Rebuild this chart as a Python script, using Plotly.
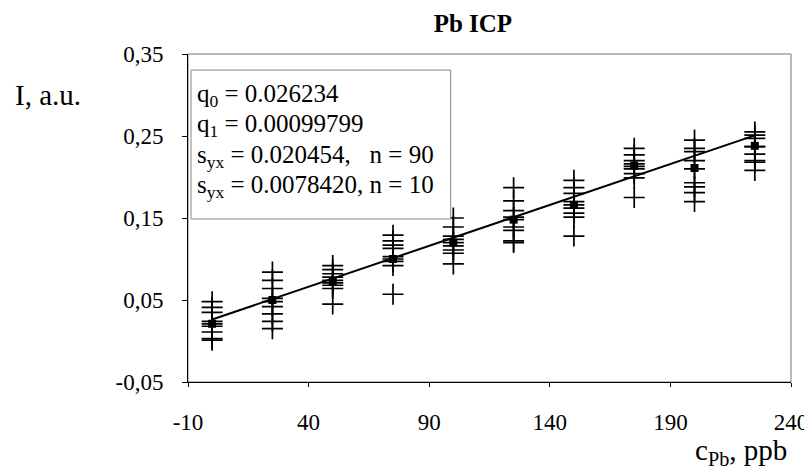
import plotly.graph_objects as go

# ---- data ----
concentrations = [0, 25, 50, 75, 100, 125, 150, 175, 200, 225]

replicates = [
    [0.048, 0.041, 0.035, 0.024, 0.021, 0.018, 0.011, 0.003, 0.001],
    [0.084, 0.074, 0.064, 0.052, 0.048, 0.042, 0.033, 0.024, 0.015],
    [0.092, 0.087, 0.082, 0.078, 0.074, 0.071, 0.068, 0.064, 0.045],
    [0.129, 0.122, 0.117, 0.113, 0.103, 0.100, 0.097, 0.092, 0.057],
    [0.150, 0.139, 0.128, 0.124, 0.120, 0.116, 0.111, 0.107, 0.094],
    [0.187, 0.171, 0.159, 0.151, 0.148, 0.139, 0.135, 0.122, 0.120],
    [0.196, 0.187, 0.180, 0.170, 0.166, 0.162, 0.156, 0.151, 0.128],
    [0.235, 0.227, 0.220, 0.216, 0.213, 0.210, 0.204, 0.199, 0.175],
    [0.245, 0.235, 0.231, 0.220, 0.210, 0.193, 0.188, 0.181, 0.170],
    [0.255, 0.251, 0.247, 0.237, 0.237, 0.228, 0.220, 0.218, 0.208],
]

means = [0.021, 0.050, 0.072, 0.100, 0.120, 0.148, 0.166, 0.214, 0.211, 0.238]

q0 = 0.026234
q1 = 0.00099799
fit_x = [0, 225]

x_ticks = [-10, 40, 90, 140, 190, 240]
y_ticks = [-0.05, 0.05, 0.15, 0.25, 0.35]
y_ticktext = ["-0,05", "0,05", "0,15", "0,25", "0,35"]

stats_lines = [
    "q<sub>0</sub> = 0.026234",
    "q<sub>1</sub> = 0.00099799",
    "s<sub>yx</sub> = 0.020454,   n = 90",
    "s<sub>yx</sub> = 0.0078420, n = 10",
]

FONT = "Liberation Serif"

# ---- figure ----
px_all, py_all = [], []
for c, reps in zip(concentrations, replicates):
    for v in reps:
        px_all.append(c)
        py_all.append(v)

fig = go.Figure()
fig.add_trace(go.Scatter(
    x=px_all, y=py_all, mode="markers",
    marker=dict(symbol="cross-thin-open", size=15, color="black",
                line=dict(color="black", width=1.7)),
    showlegend=False, hoverinfo="skip"))
fig.add_trace(go.Scatter(
    x=fit_x, y=[q0 + q1 * v for v in fit_x], mode="lines",
    line=dict(color="black", width=2), showlegend=False))
fig.add_trace(go.Scatter(
    x=concentrations, y=means, mode="markers",
    marker=dict(symbol="square", size=8, color="black"),
    showlegend=False))

fig.update_layout(
    width=812, height=475,
    margin=dict(l=180, r=19, t=46, b=101),
    paper_bgcolor="white", plot_bgcolor="white",
    font=dict(family=FONT, color="black", size=20),
    title=dict(text="<b>Pb ICP</b>", x=0.5725, xanchor="center",
               y=0.968, yanchor="middle",
               font=dict(family=FONT, size=25, color="black")),
)

fig.update_xaxes(
    range=[-10, 240], tickvals=x_ticks, ticktext=[str(v) for v in x_ticks],
    showgrid=False, zeroline=False, showline=True, linecolor="black",
    linewidth=1, ticks="outside", ticklen=4, tickcolor="black",
    tickfont=dict(family=FONT, size=23), ticklabelstandoff=15)
fig.update_yaxes(
    range=[-0.05, 0.35], tickvals=y_ticks, ticktext=y_ticktext,
    showgrid=False, zeroline=False, showline=True, linecolor="black",
    linewidth=1, ticks="outside", ticklen=5, tickcolor="black",
    tickfont=dict(family=FONT, size=23), ticklabelstandoff=14)

# plot frame (top / right)
fig.add_shape(type="rect", xref="paper", yref="paper", x0=0, x1=1, y0=0, y1=1,
              line=dict(color="#777777", width=1), layer="below")

# stats box
fig.add_shape(type="rect", xref="paper", yref="paper",
              x0=0.005, x1=0.4356, y0=0.497, y1=0.951,
              line=dict(color="#888888", width=1), fillcolor="white")
for i, t in enumerate(stats_lines):
    fig.add_annotation(xref="paper", yref="paper", x=0.012,
                       y=0.872 - i * 0.0915, xanchor="left", yanchor="middle",
                       text=t, showarrow=False,
                       font=dict(family=FONT, size=25, color="black"))

# axis titles
fig.add_annotation(xref="paper", yref="paper", x=-0.29, y=0.875,
                   xanchor="left", yanchor="middle", text="I, a.u.",
                   showarrow=False, font=dict(family=FONT, size=29))
fig.add_annotation(xref="paper", yref="paper", x=0.997, y=-0.212,
                   xanchor="right", yanchor="middle",
                   text="c<sub>Pb</sub>, ppb", showarrow=False,
                   font=dict(family=FONT, size=29))

fig.write_html("out.html")
